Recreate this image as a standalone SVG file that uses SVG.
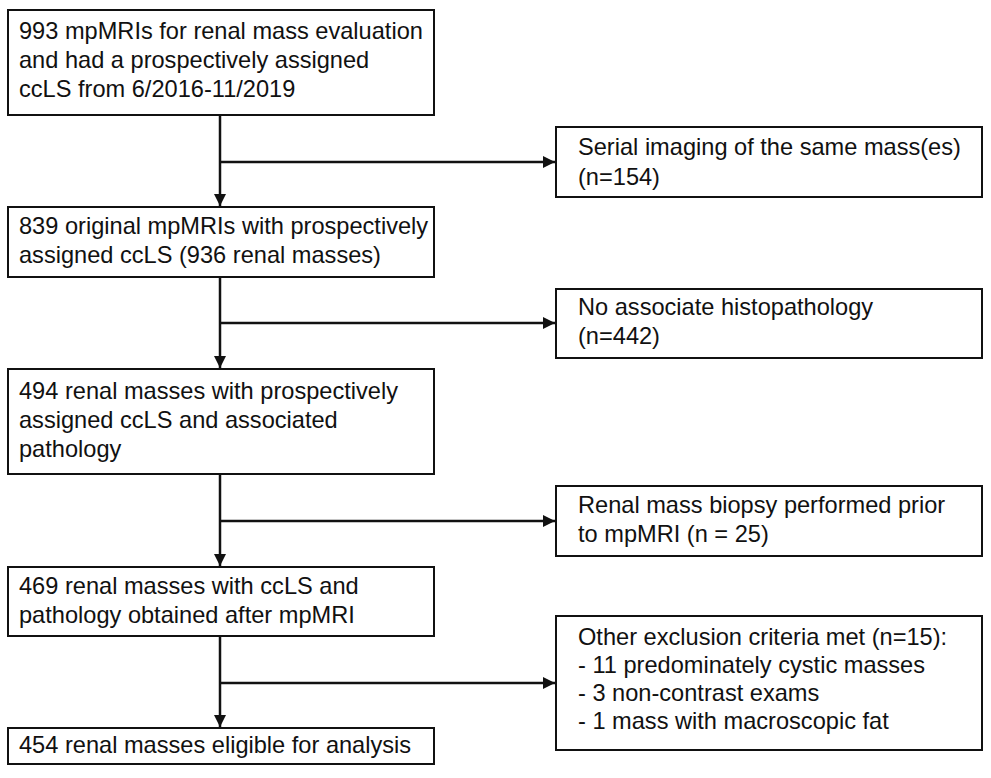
<svg xmlns="http://www.w3.org/2000/svg" width="991" height="778" viewBox="0 0 991 778">
<style>
.box{fill:#fff;stroke:#111;stroke-width:2}
.t{font-family:"Liberation Sans",Arial,sans-serif;font-size:23.6px;fill:#111}
.c{fill:none;stroke:#111;stroke-width:2.5}
</style>
<defs>
<marker id="ah" viewBox="0 0 10 10" refX="10" refY="5" markerWidth="4.8" markerHeight="4.8" orient="auto" markerUnits="strokeWidth">
<path d="M0,0L10,5L0,10z" fill="#111"/>
</marker>
</defs>
<rect width="991" height="778" fill="#fff"/>
<g id="connectors">
<path class="c" d="M220,115V206" marker-end="url(#ah)"/>
<path class="c" d="M220,162H555" marker-end="url(#ah)"/>
<path class="c" d="M220,277V368" marker-end="url(#ah)"/>
<path class="c" d="M220,323H555" marker-end="url(#ah)"/>
<path class="c" d="M220,474V566" marker-end="url(#ah)"/>
<path class="c" d="M220,521H555" marker-end="url(#ah)"/>
<path class="c" d="M220,636V727" marker-end="url(#ah)"/>
<path class="c" d="M220,683H555" marker-end="url(#ah)"/>
</g>
<g id="n1"><rect class="box" x="8" y="10" width="426" height="105"/>
<text class="t" x="19" y="39">993 mpMRIs for renal mass evaluation</text>
<text class="t" x="19" y="68">and had a prospectively assigned</text>
<text class="t" x="19" y="97">ccLS from 6/2016-11/2019</text></g>
<g id="x1"><rect class="box" x="556" y="127" width="426" height="70"/>
<text class="t" x="578" y="155">Serial imaging of the same mass(es)</text>
<text class="t" x="578" y="185">(n=154)</text></g>
<g id="n2"><rect class="box" x="8" y="207" width="426" height="70"/>
<text class="t" x="19" y="234">839 original mpMRIs with prospectively</text>
<text class="t" x="19" y="263">assigned ccLS (936 renal masses)</text></g>
<g id="x2"><rect class="box" x="556" y="289" width="426" height="69"/>
<text class="t" x="578" y="315">No associate histopathology</text>
<text class="t" x="578" y="344">(n=442)</text></g>
<g id="n3"><rect class="box" x="8" y="369" width="426" height="105"/>
<text class="t" x="19" y="399">494 renal masses with prospectively</text>
<text class="t" x="19" y="428">assigned ccLS and associated</text>
<text class="t" x="19" y="457">pathology</text></g>
<g id="x3"><rect class="box" x="556" y="486" width="426" height="70"/>
<text class="t" x="578" y="513">Renal mass biopsy performed prior</text>
<text class="t" x="578" y="542">to mpMRI (n = 25)</text></g>
<g id="n4"><rect class="box" x="8" y="567" width="426" height="69"/>
<text class="t" x="19" y="594">469 renal masses with ccLS and</text>
<text class="t" x="19" y="623">pathology obtained after mpMRI</text></g>
<g id="x4"><rect class="box" x="556" y="616" width="426" height="134"/>
<text class="t" x="578" y="645">Other exclusion criteria met (n=15):</text>
<text class="t" x="578" y="673">- 11 predominately cystic masses</text>
<text class="t" x="578" y="701">- 3 non-contrast exams</text>
<text class="t" x="578" y="729">- 1 mass with macroscopic fat</text></g>
<g id="n5"><rect class="box" x="8" y="728" width="426" height="36"/>
<text class="t" x="19" y="753">454 renal masses eligible for analysis</text></g>
</svg>
